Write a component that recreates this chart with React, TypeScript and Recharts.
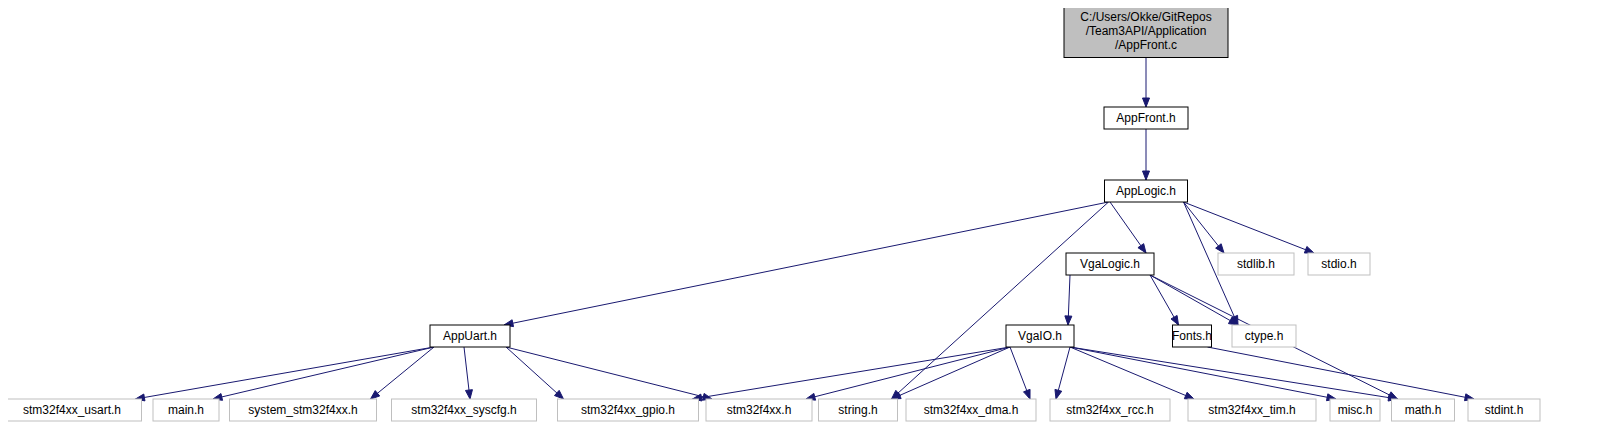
import React from 'react';
import { ScatterChart, Scatter, XAxis, YAxis } from 'recharts';

// node: name, centre x, centre y, width, height, kind
const nodeNames = [
  'C:/Users/Okke/GitRepos\n/Team3API/Application\n/AppFront.c',
  'AppFront.h', 'AppLogic.h', 'VgaLogic.h', 'stdlib.h', 'stdio.h',
  'AppUart.h', 'VgaIO.h', 'Fonts.h', 'ctype.h',
  'stm32f4xx_usart.h', 'main.h', 'system_stm32f4xx.h', 'stm32f4xx_syscfg.h',
  'stm32f4xx_gpio.h', 'stm32f4xx.h', 'string.h', 'stm32f4xx_dma.h',
  'stm32f4xx_rcc.h', 'stm32f4xx_tim.h', 'misc.h', 'math.h', 'stdint.h',
];
const nodeX = [1146, 1146, 1146, 1110, 1256, 1339, 470, 1040, 1192, 1264,
  72, 186, 303, 464, 628, 759, 858, 971, 1110, 1252, 1355, 1423, 1504];
const nodeY = [31, 118, 191, 264, 264, 264, 336, 336, 336, 336,
  410, 410, 410, 410, 410, 410, 410, 410, 410, 410, 410, 410, 410];
const nodeW = [164, 84, 83, 88, 76, 62, 80, 68, 39, 64,
  139, 66, 147, 145, 141, 106, 79, 130, 120, 128, 50, 63, 72];
const nodeH = [53, 22, 22, 22, 22, 22, 22, 22, 22, 22,
  22, 22, 22, 22, 22, 22, 22, 22, 22, 22, 22, 22, 22];
// 0 = root (gray fill), 1 = documented (black border), 2 = external (gray border)
const nodeKind = [0, 1, 1, 1, 2, 2, 1, 1, 1, 2,
  2, 2, 2, 2, 2, 2, 2, 2, 2, 2, 2, 2, 2];

const edges: [number, number][] = [
  [0, 1], [1, 2], [2, 6], [2, 16], [2, 3], [2, 9], [2, 4], [2, 5],
  [3, 7], [3, 21], [3, 8], [3, 9],
  [6, 10], [6, 11], [6, 12], [6, 13], [6, 14], [6, 15],
  [7, 14], [7, 15], [7, 16], [7, 17], [7, 18], [7, 19], [7, 20], [7, 21],
  [8, 22],
];

const EDGE = '#191970';
const W = 1612;
const H = 440;

const nodes = nodeNames.map((name, i) => ({
  x: nodeX[i], y: nodeY[i], name, w: nodeW[i], h: nodeH[i], kind: nodeKind[i],
}));

const clamp = (v: number, a: number, b: number) => Math.max(a, Math.min(b, v));

const edgeData = edges.map(([s, t]) => {
  const a = nodes[s];
  const b = nodes[t];
  const sx = clamp(b.x, a.x - a.w / 2 + 4, a.x + a.w / 2 - 4);
  const sy = a.y + a.h / 2;
  const tx = clamp(a.x, b.x - b.w / 2 + 6, b.x + b.w / 2 - 6);
  const ty = b.y - b.h / 2;
  return [
    { x: sx, y: sy },
    { x: tx, y: ty, fx: sx, fy: sy, head: true },
  ];
});

// domain equals the pixel size with no margins, so data units map 1:1 to pixels
const Arrow = (props: any) => {
  const { cx, cy, payload } = props;
  if (!payload || !payload.head) return <g />;
  const dx = payload.x - payload.fx;
  const dy = payload.y - payload.fy;
  const len = Math.sqrt(dx * dx + dy * dy) || 1;
  const ux = dx / len;
  const uy = dy / len;
  const L = 9;
  const hw = 3.5;
  const bx = cx - ux * L;
  const by = cy - uy * L;
  const pts = `${cx},${cy} ${bx - uy * hw},${by + ux * hw} ${bx + uy * hw},${by - ux * hw}`;
  return <polygon points={pts} fill={EDGE} stroke={EDGE} />;
};

const NodeBox = (props: any) => {
  const { cx, cy, payload } = props;
  const { w, h, kind, name } = payload;
  const lines = name.split('\n');
  return (
    <g>
      <rect
        x={cx - w / 2}
        y={cy - h / 2}
        width={w}
        height={h}
        fill={kind === 0 ? '#bfbfbf' : '#ffffff'}
        stroke={kind === 2 ? '#bfbfbf' : '#000000'}
        strokeWidth={1}
      />
      {lines.map((ln: string, i: number) => (
        <text
          key={i}
          x={cx}
          y={cy + (i - (lines.length - 1) / 2) * 14 + 4}
          textAnchor="middle"
          fontFamily="Liberation Sans, Arial, sans-serif"
          fontSize={12}
          fill="#000"
        >
          {ln}
        </text>
      ))}
    </g>
  );
};

export default function App() {
  return (
    <div style={{ margin: -8, width: W, height: H, background: '#fff' }}>
      <ScatterChart width={W} height={H} margin={{ top: 0, right: 0, bottom: 0, left: 0 }}>
        <XAxis type="number" dataKey="x" domain={[0, W]} hide />
        <YAxis type="number" dataKey="y" domain={[0, H]} reversed hide />
        {edgeData.map((d, i) => (
          <Scatter
            key={i}
            data={d}
            line={{ stroke: EDGE, strokeWidth: 1 }}
            shape={<Arrow />}
            isAnimationActive={false}
          />
        ))}
        <Scatter data={nodes} shape={<NodeBox />} isAnimationActive={false} />
      </ScatterChart>
    </div>
  );
}
